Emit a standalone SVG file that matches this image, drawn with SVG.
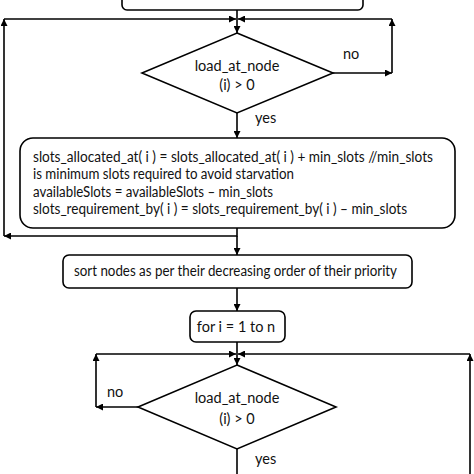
<svg xmlns="http://www.w3.org/2000/svg" width="474" height="474" viewBox="0 0 474 474">
<style>
.box{fill:#fff;stroke:#000;stroke-width:1.6}
.ln{fill:none;stroke:#000;stroke-width:1.6}
text{font-family:Lato,"Open Sans","Liberation Sans",sans-serif;font-size:14.5px;fill:#111}
.c{text-anchor:middle}
</style>
<defs>
<marker id="ah" viewBox="0 0 10 10" refX="10" refY="5" markerWidth="7" markerHeight="7" orient="auto" markerUnits="userSpaceOnUse">
<path d="M0,0 L10,5 L0,10 z" fill="#000"/>
</marker>
</defs>
<rect width="474" height="474" fill="#fff"/>
<g id="connectors">
<path class="ln" d="M237,10 V33" marker-end="url(#ah)"/>
<path class="ln" d="M4,236 V19" marker-end="url(#ah)"/>
<path class="ln" d="M4,19 H236" marker-end="url(#ah)"/>
<path class="ln" d="M333,73 H392" marker-end="url(#ah)"/>
<path class="ln" d="M392,73 V19" marker-end="url(#ah)"/>
<path class="ln" d="M392,19 H238" marker-end="url(#ah)"/>
<path class="ln" d="M237,113 V138" marker-end="url(#ah)"/>
<path class="ln" d="M237,228 V236 H4" marker-end="url(#ah)"/>
<path class="ln" d="M237,236 V255" marker-end="url(#ah)"/>
<path class="ln" d="M237,288 V311" marker-end="url(#ah)"/>
<path class="ln" d="M237,342 V365" marker-end="url(#ah)"/>
<path class="ln" d="M138,407 H96" marker-end="url(#ah)"/>
<path class="ln" d="M96,407 V354" marker-end="url(#ah)"/>
<path class="ln" d="M96,354 H236" marker-end="url(#ah)"/>
<path class="ln" d="M470,474 V354" marker-end="url(#ah)"/>
<path class="ln" d="M470,354 H238" marker-end="url(#ah)"/>
<path class="ln" d="M237,449 V474"/>
<text x="343" y="59">no</text>
<text x="255" y="123">yes</text>
<text x="107" y="397">no</text>
<text x="255" y="464">yes</text>
</g>
<g id="top-box">
<rect class="box" x="122" y="-20" width="241" height="30" rx="5"/>
</g>
<g id="decision1">
<polygon class="box" points="237,33 333,73 237,113 142,73"/>
<text class="c" x="237" y="71">load_at_node</text>
<text class="c" x="237" y="90">(i) &gt; 0</text>
</g>
<g id="allocate">
<rect class="box" x="20" y="138" width="435" height="90" rx="13"/>
<text x="33" y="162" textLength="400" lengthAdjust="spacingAndGlyphs">slots_allocated_at( i ) = slots_allocated_at( i ) + min_slots //min_slots</text>
<text x="33" y="179" textLength="261" lengthAdjust="spacingAndGlyphs">is minimum slots required to avoid starvation</text>
<text x="33" y="197" textLength="240" lengthAdjust="spacingAndGlyphs">availableSlots = availableSlots – min_slots</text>
<text x="33" y="214" textLength="374" lengthAdjust="spacingAndGlyphs">slots_requirement_by( i ) = slots_requirement_by( i ) – min_slots</text>
</g>
<g id="sort">
<rect class="box" x="63" y="255" width="349" height="33" rx="6"/>
<text x="74" y="276" textLength="323" lengthAdjust="spacingAndGlyphs">sort nodes as per their decreasing order of their priority</text>
</g>
<g id="for-loop">
<rect class="box" x="190" y="311" width="95" height="31" rx="6"/>
<text class="c" x="236" y="332">for i = 1 to n</text>
</g>
<g id="decision2">
<polygon class="box" points="237,365 336,407 237,449 138,407"/>
<text class="c" x="237" y="403">load_at_node</text>
<text class="c" x="237" y="424">(i) &gt; 0</text>
</g>
</svg>
